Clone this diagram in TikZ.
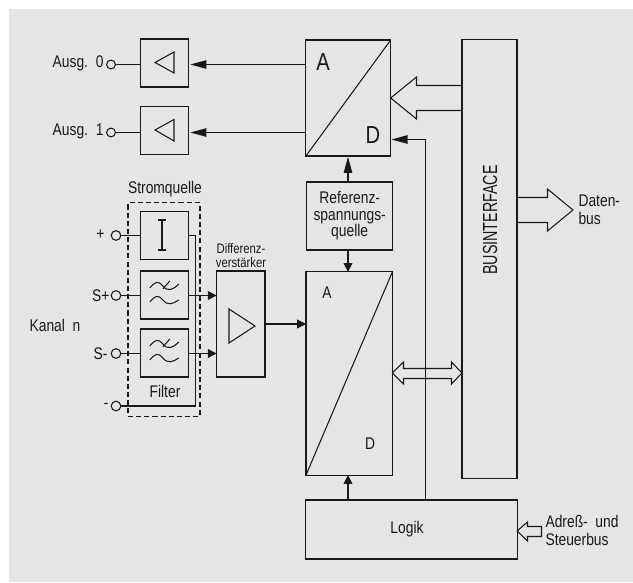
\documentclass[tikz,border=0pt]{standalone}
\usepackage{fontspec}
\setmainfont{Liberation Sans}[FakeStretch=0.82]
\newfontfamily\narrowfont{Liberation Sans}[FakeStretch=0.7]
\usetikzlibrary{arrows.meta}

\begin{document}
\begin{tikzpicture}[x=0.025cm, y=-0.025cm, line width=0.75pt]
        \tikzstyle{box} = [draw=black!90, rectangle, inner sep=0pt, outer sep=0pt, align=center, text=black!90]
        \tikzstyle{term} = [draw=black!90, circle, minimum size=0.24cm, inner sep=0pt, outer sep=0pt]
        \tikzstyle{txt} = [inner sep=0pt, text=black!90, font=\fontsize{12}{13}\selectfont, align=center]
        \tikzstyle{pointer} = [-{Triangle[length=0.4cm, width=0.21cm]}, draw=black!90, shorten >=0.05cm]
        \tikzstyle{shortpointer} = [-{Triangle[length=0.22cm, width=0.22cm]}, draw=black!90]
        \tikzstyle{wire} = [draw=black!90]
        \tikzstyle{busarrow} = [draw=black!90, line join=miter]
        \useasboundingbox (0,0) rectangle (633,583);
        \fill[black!10] (9,9) rectangle (633,582);
        % ausgaenge
        \node[box, minimum width=1.19cm, minimum height=1.2cm] (ampA) at (164.5,63) {};
        \node[box, minimum width=1.19cm, minimum height=1.18cm] (ampB) at (164.5,130.5) {};
        \node[term, minimum size=0.22cm] (outA) at (111,64.5) {};
        \node[term, minimum size=0.22cm] (outB) at (111,132.5) {};
        \node[txt, anchor=east] (ausgA) at (104,63) {Ausg.\ \ 0};
        \node[txt, anchor=east] (ausgB) at (104,131) {Ausg.\ \ 1};
        \draw[wire] (outA) -- (outA -| ampA.west);
        \draw[wire] (outB) -- (outB -| ampB.west);
        \draw[wire] (174,52) -- (174,73) -- (155,62.5) -- cycle;
        \draw[wire] (174,119.5) -- (174,141) -- (155,130) -- cycle;
        % wandler
        \node[box, minimum width=2.12cm, minimum height=2.9cm] (da) at (348.3,98) {};
        \node[box, minimum width=2.16cm, minimum height=1.7cm, font=\fontsize{12}{11.8}\selectfont] (ref) at (349.7,216) {Referenz-\\spannungs-\\quelle};
        \node[box, minimum width=2.16cm, minimum height=5.08cm] (ad) at (349.2,373.5) {};
        \node[box, minimum width=1.375cm, minimum height=10.95cm] (bus) at (489.5,259) {};
        \node[box, minimum width=5.28cm, minimum height=1.475cm] (logik) at (411.5,529.5) {};
        \draw[wire] (da.south west) -- (da.north east);
        \draw[wire] (ad.south west) -- (ad.north east);
        \node[txt, font=\fontsize{17.5}{18}\selectfont] (daA) at (323,62) {A};
        \node[txt, font=\fontsize{17.5}{18}\selectfont] (daD) at (373,135) {D};
        \node[txt] (adA) at (327,293) {A};
        \node[txt] (adD) at (370,444) {D};
        \node[txt] (logiktxt) at (407,529) {Logik};
        \node[txt, rotate=90, font=\narrowfont\fontsize{14.5}{15}\selectfont] (bustxt) at (490,220) {BUSINTERFACE};
        % kanal n
        \node[box, minimum width=1.2cm, minimum height=1.22cm] (strom) at (164.8,235.5) {};
        \node[box, minimum width=1.2cm, minimum height=1.2cm] (filtA) at (164.8,295) {};
        \node[box, minimum width=1.2cm, minimum height=1.2cm] (filtB) at (164.8,353) {};
        \node[box, minimum width=1.21cm, minimum height=2.65cm] (diff) at (240.8,324) {};
        \node[draw=black!90, dash pattern=on 3.6pt off 2.2pt, inner sep=0pt, minimum width=1.8cm, minimum height=5.33cm] (quelle) at (164,309.5) {};
        \node[term] (termP) at (116,235.5) {};
        \node[term] (termS) at (116,295.5) {};
        \node[term] (termT) at (116,353.5) {};
        \node[term] (termM) at (116,406) {};
        \node[txt, anchor=east] (labP) at (105,235) {+};
        \node[txt, anchor=east] (labS) at (110,296) {S+};
        \node[txt, anchor=east] (labT) at (108,354) {S-};
        \node[txt, anchor=east] (labM) at (109,406) {-};
        \node[txt] (kanal) at (55,325) {Kanal\ \ n};
        \node[txt] (stromtxt) at (165,189) {Stromquelle};
        \node[txt] (filtertxt) at (165,391) {Filter};
        \node[txt, font=\fontsize{9.8}{10}\selectfont] (difftxt) at (241,256) {Differenz-\\verstärker};
        \coordinate (ret) at (195.5,235.5);
        \draw[wire] (termP) -- (strom.west);
        \draw[wire] (termS) -- (filtA.west |- termS);
        \draw[wire] (termT) -- (filtB.west |- termT);
        \draw[wire] (strom.east) -- (ret) |- (termM);
        \draw[wire] (162,220) -- (162,250) (158,220) -- (166,220) (158,250) -- (166,250);
        \foreach \f in {filtA,filtB} {
            \draw[wire, shift={(\f.center)}] (-15,-7) .. controls (-10,-13) and (-7,-15) .. (-2,-9) .. controls (3,-3) and (8,-5) .. (14,-11);
            \draw[wire, shift={(\f.center)}] (-2,-6) -- (5,-14);
            \draw[wire, shift={(\f.center)}] (-15,7) .. controls (-10,1) and (-7,-1) .. (-2,5) .. controls (3,11) and (8,9) .. (14,5);
        }
        \draw[wire] (229,309) -- (229,343) -- (255,326) -- cycle;
        % pfeile
        \draw[pointer] (da.west |- outA) -- (ampA.east |- outA);
        \draw[pointer] (da.west |- outB) -- (ampB.east |- outB);
        \draw[pointer, shorten >=0.02cm] (ref.north -| 348,0) -- (da.south -| 348,0);
        \draw[shortpointer] (ref.south -| 348,0) -- (ad.north -| 348,0);
        \draw[shortpointer] (logik.north -| 348,0) -- (ad.south -| 348,0);
        \draw[shortpointer] (filtA.east |- termS) -- (diff.west |- termS);
        \draw[shortpointer] (filtB.east |- termT) -- (diff.west |- termT);
        \draw[shortpointer] (diff.east) -- (ad.west |- diff.east);
        \draw[busarrow] (da.east |- 0,98) -- (416.5,77) -- (416.5,85.5) -- (bus.west |- 0,85.5);
        \draw[busarrow] (da.east |- 0,98) -- (416.5,119) -- (416.5,110.5) -- (bus.west |- 0,110.5);
        \draw[busarrow] (bus.east |- 0,197.5) -- (547.5,197.5) -- (547.5,189) -- (573,210) -- (547.5,231) -- (547.5,222.5) -- (bus.east |- 0,222.5);
        \draw[busarrow] (ad.east |- 0,373) -- (403.5,362) -- (403.5,368.5) -- (451.5,368.5) -- (451.5,362) -- (bus.west |- 0,373) -- (451.5,384) -- (451.5,378.5) -- (403.5,378.5) -- (403.5,384) -- cycle;
        \draw[busarrow] (logik.east |- 0,531) -- (527.5,522) -- (527.5,526.5) -- (541.5,526.5) -- (541.5,536.5) -- (527.5,536.5) -- (527.5,541) -- cycle;
        \draw[pointer, shorten >=0.02cm] (logik.north -| 425.7,0) -- (425.7,139.5) -- (da.east |- 0,139.5);
        % beschriftung rechts
        \node[txt, anchor=west, align=left] (daten) at (578,210) {Daten-\\bus};
        \node[txt, anchor=west, align=left] (adress) at (545,530.5) {Adreß-\ \ und\\Steuerbus};
    \end{tikzpicture}
\end{document}
